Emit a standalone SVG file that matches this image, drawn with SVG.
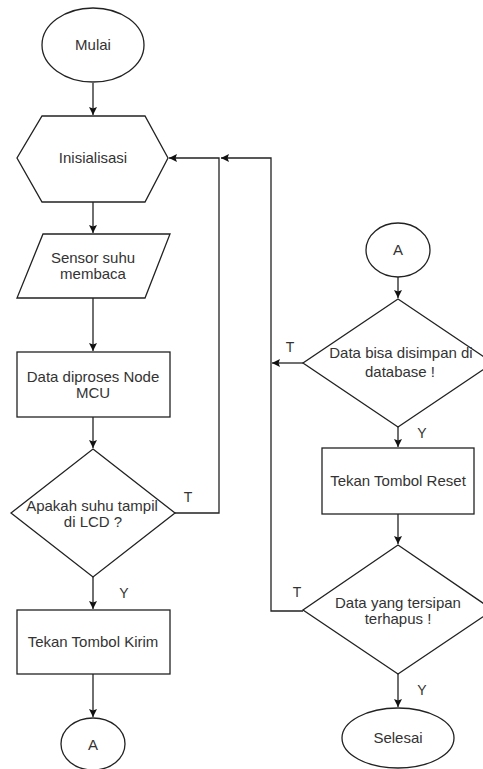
<svg xmlns="http://www.w3.org/2000/svg" width="483" height="769" viewBox="0 0 483 769">
<defs>
<style>
.s{fill:#fff;stroke:#222;stroke-width:1.3}
.c{fill:none;stroke:#222;stroke-width:1.3}
.t{font-family:"Liberation Sans",Arial,sans-serif;font-size:15px;fill:#333;text-anchor:middle}
.l{font-family:"Liberation Sans",Arial,sans-serif;font-size:14px;fill:#333;text-anchor:middle}
</style>
<marker id="ar" markerUnits="userSpaceOnUse" markerWidth="10" markerHeight="10" refX="8" refY="4" orient="auto">
<path d="M0,0 L8,4 L0,8 L1.5,4 z" fill="#111"/>
</marker>
</defs>
<rect width="483" height="769" fill="#fff"/>
<g id="connectors">
<line class="c" x1="93" y1="83" x2="93" y2="115" marker-end="url(#ar)"/>
<line class="c" x1="93" y1="202" x2="93" y2="233" marker-end="url(#ar)"/>
<line class="c" x1="93" y1="298" x2="93" y2="351" marker-end="url(#ar)"/>
<line class="c" x1="93" y1="417" x2="93" y2="448" marker-end="url(#ar)"/>
<line class="c" x1="93" y1="577" x2="93" y2="609" marker-end="url(#ar)"/>
<line class="c" x1="93" y1="674" x2="93" y2="717" marker-end="url(#ar)"/>
<polyline class="c" points="175,513 219,513 219,158 169,158" marker-end="url(#ar)"/>
<line class="c" x1="398" y1="277" x2="398" y2="298" marker-end="url(#ar)"/>
<line class="c" x1="398" y1="427" x2="398" y2="447" marker-end="url(#ar)"/>
<line class="c" x1="398" y1="514" x2="398" y2="544" marker-end="url(#ar)"/>
<line class="c" x1="398" y1="674" x2="398" y2="707" marker-end="url(#ar)"/>
<line class="c" x1="303" y1="363" x2="272" y2="363" marker-end="url(#ar)"/>
<polyline class="c" points="303,611 271,611 271,158 221,158" marker-end="url(#ar)"/>
<text class="l" x="188" y="502">T</text>
<text class="l" x="124" y="598">Y</text>
<text class="l" x="290" y="352">T</text>
<text class="l" x="422" y="438">Y</text>
<text class="l" x="297" y="597">T</text>
<text class="l" x="422" y="695">Y</text>
</g>
<g id="mulai">
<ellipse class="s" cx="93" cy="45" rx="51" ry="37"/>
<text class="t" x="93" y="50">Mulai</text>
</g>
<g id="inisialisasi">
<polygon class="s" points="42,116 145,116 168,158 145,202 42,202 17,158"/>
<text class="t" x="93" y="163">Inisialisasi</text>
</g>
<g id="sensor">
<polygon class="s" points="43,234 170,234 145,298 17,298"/>
<text class="t" x="93" y="263">Sensor suhu</text>
<text class="t" x="93" y="279">membaca</text>
</g>
<g id="proses">
<rect class="s" x="17" y="352" width="153" height="65"/>
<text class="t" x="93" y="382">Data diproses Node</text>
<text class="t" x="93" y="398">MCU</text>
</g>
<g id="cek-lcd">
<polygon class="s" points="93,449 175,513 93,577 11,513"/>
<text class="t" x="92" y="511">Apakah suhu tampil</text>
<text class="t" x="93" y="527">di LCD ?</text>
</g>
<g id="kirim">
<rect class="s" x="17" y="610" width="153" height="64"/>
<text class="t" x="93" y="647">Tekan Tombol Kirim</text>
</g>
<g id="a-out">
<ellipse class="s" cx="93" cy="744" rx="32" ry="26"/>
<text class="t" x="93" y="750">A</text>
</g>
<g id="a-in">
<ellipse class="s" cx="398" cy="250" rx="32" ry="27"/>
<text class="t" x="398" y="255">A</text>
</g>
<g id="cek-simpan">
<polygon class="s" points="398,299 493,363 398,427 303,363"/>
<text class="t" x="401" y="358">Data bisa disimpan di</text>
<text class="t" x="400" y="377">database !</text>
</g>
<g id="reset">
<rect class="s" x="322" y="448" width="152" height="66"/>
<text class="t" x="398" y="486">Tekan Tombol Reset</text>
</g>
<g id="cek-hapus">
<polygon class="s" points="398,545 493,610 398,674 303,610"/>
<text class="t" x="398" y="608">Data yang tersipan</text>
<text class="t" x="398" y="624">terhapus !</text>
</g>
<g id="selesai">
<ellipse class="s" cx="398" cy="738" rx="56" ry="30"/>
<text class="t" x="398" y="743">Selesai</text>
</g>
</svg>
